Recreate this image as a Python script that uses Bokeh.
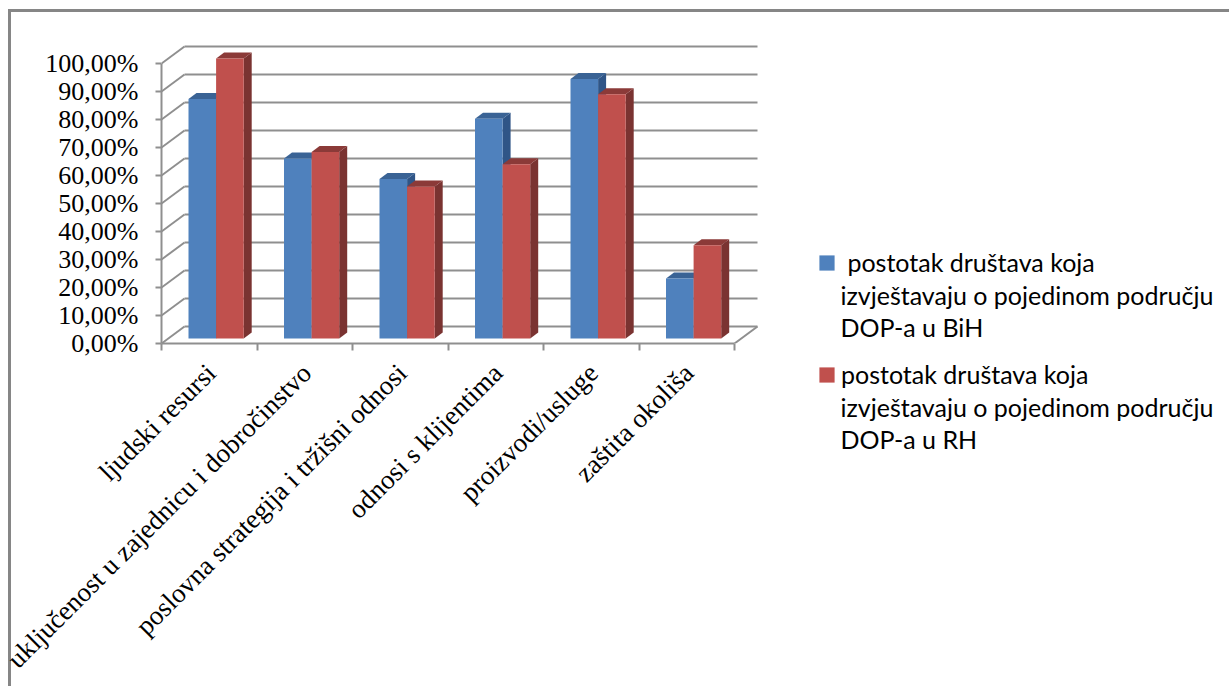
from bokeh.plotting import figure
from bokeh.embed import file_html
from bokeh.resources import INLINE
from bokeh.models import Range1d, FixedTicker, Label, Legend, LegendItem
from math import pi

categories = ["ljudski resursi", "uključenost u zajednicu i dobročinstvo",
              "poslovna strategija i tržišni odnosi", "odnosi s klijentima",
              "proizvodi/usluge", "zaštita okoliša"]
bih = [85.5, 64.3, 57.0, 78.5, 92.7, 21.4]
rh = [100.0, 66.6, 54.3, 62.2, 87.2, 33.3]
y_ticks = [0, 10, 20, 30, 40, 50, 60, 70, 80, 90, 100]
y_labels = ["0,00%", "10,00%", "20,00%", "30,00%", "40,00%", "50,00%",
            "60,00%", "70,00%", "80,00%", "90,00%", "100,00%"]
legend_bih = [" postotak društava koja", "izvještavaju o pojedinom području", "DOP-a u BiH"]
legend_rh = ["postotak društava koja", "izvještavaju o pojedinom području", "DOP-a u RH"]

W, H = 1229, 686
LEFT, RIGHT, AXIS_Y = 161, 761, 343
BOTTOM = H - AXIS_Y
PX_X, PX_Y = 95.5, 2.8
WALL_DX, WALL_DY = 23 / PX_X, 17 / PX_Y
BAR_DX, BAR_DY = 8 / PX_X, 6 / PX_Y
BAR_X0, BAR_W, BAR_LIFT = 27 / PX_X, 27.6 / PX_X, 5 / PX_Y
LABEL_SHIFT = 2 / PX_X
GRAY = "#8f8f8f"
EDGE = "linear-gradient(#868686,#868686)"

p = figure(width=W, height=H, frame_width=RIGHT - LEFT, frame_height=AXIS_Y,
           output_backend="svg", toolbar_location=None,
           x_range=Range1d(0, (RIGHT - LEFT) / PX_X), y_range=Range1d(0, AXIS_Y / PX_Y),
           min_border_left=LEFT, min_border_bottom=BOTTOM, min_border_top=0,
           min_border_right=W - RIGHT,
           border_fill_color=None, background_fill_color=None,
           styles={"background": f"{EDGE} 8px 9px/100% 3px no-repeat, {EDGE} 8px 9px/3px 100% no-repeat"})
p.outline_line_color = None
p.grid.visible = False

# back wall and floor
n = len(categories)
p.segment([WALL_DX] * len(y_ticks), [v + WALL_DY for v in y_ticks],
          [n + WALL_DX] * len(y_ticks), [v + WALL_DY for v in y_ticks], line_color=GRAY, line_width=2)
p.segment([0] * len(y_ticks), y_ticks, [WALL_DX] * len(y_ticks),
          [v + WALL_DY for v in y_ticks], line_color=GRAY, line_width=2)
p.segment([n], [0], [n + WALL_DX], [WALL_DY], line_color=GRAY, line_width=2)


def bars(values, shift, front, top, side):
    lefts = [i + BAR_X0 + shift * BAR_W for i in range(len(values))]
    rights = [x + BAR_W for x in lefts]
    tops = [BAR_LIFT + v for v in values]
    p.patches([[r, r + BAR_DX, r + BAR_DX, r] for r in rights],
              [[BAR_LIFT, BAR_LIFT + BAR_DY, t + BAR_DY, t] for t in tops],
              fill_color=side, line_color=None)
    p.patches([[l, l + BAR_DX, r + BAR_DX, r] for l, r in zip(lefts, rights)],
              [[t, t + BAR_DY, t + BAR_DY, t] for t in tops],
              fill_color=top, line_color=None)
    return p.quad(left=lefts, right=rights, bottom=[BAR_LIFT] * len(values), top=tops,
                  fill_color=front, line_color=None)


r_bih = bars(bih, 0, "#4F81BD", "#3A6395", "#2F5587")
r_rh = bars(rh, 1, "#C0504D", "#8B3A38", "#7A3331")

# axes
ya = p.yaxis[0]
ya.ticker = FixedTicker(ticks=y_ticks)
ya.major_label_overrides = dict(zip(y_ticks, y_labels))
ya.bounds = (0, 100)
ya.major_tick_out, ya.major_tick_in = 6, 0
ya.major_label_standoff = 17
ya.major_label_text_font = "Liberation Serif"
ya.major_label_text_font_size = "26px"
ya.major_label_text_color = "#000000"
ya.axis_line_color = ya.major_tick_line_color = GRAY
ya.axis_line_width = ya.major_tick_line_width = 2
ya.minor_tick_line_color = None

xa = p.xaxis[0]
centers = [i + 0.5 + LABEL_SHIFT for i in range(n)]
xa.ticker = FixedTicker(ticks=centers, minor_ticks=list(range(n + 1)))
xa.major_label_overrides = dict(zip(centers, categories))
xa.major_label_orientation = pi / 4
xa.bounds = (0, n)
xa.major_tick_line_color = None
xa.minor_tick_out, xa.minor_tick_in = 7, 0
xa.major_label_standoff = 18
xa.major_label_text_font = "Liberation Serif"
xa.major_label_text_font_size = "27px"
xa.major_label_text_color = "#000000"
xa.axis_line_color = xa.minor_tick_line_color = GRAY
xa.axis_line_width = xa.minor_tick_line_width = 2

# legend: swatch beside the first of three text lines, held in the right-hand panel
legend = Legend(items=[LegendItem(label=legend_bih[0], renderers=[r_bih]),
                       LegendItem(label=legend_rh[0], renderers=[r_rh])],
                location=(56, -46), orientation="vertical",
                border_line_color=None, background_fill_alpha=0,
                label_text_font="Lato", label_text_font_size="25px",
                label_text_color="#000000",
                glyph_width=19, glyph_height=19, label_standoff=5, spacing=82,
                padding=0, margin=0)
p.add_layout(legend, "right")
for lines, base in ((legend_bih, 294.5), (legend_rh, 406)):
    for k, line in enumerate(lines[1:]):
        p.add_layout(Label(x=840, y=base + 32 * k, x_units="canvas", y_units="canvas", text=line,
                           text_font="Lato", text_font_size="25px",
                           text_color="#000000", text_baseline="alphabetic", text_align="left"),
                     "right")

open("out.html", "w").write(file_html(p, INLINE))
